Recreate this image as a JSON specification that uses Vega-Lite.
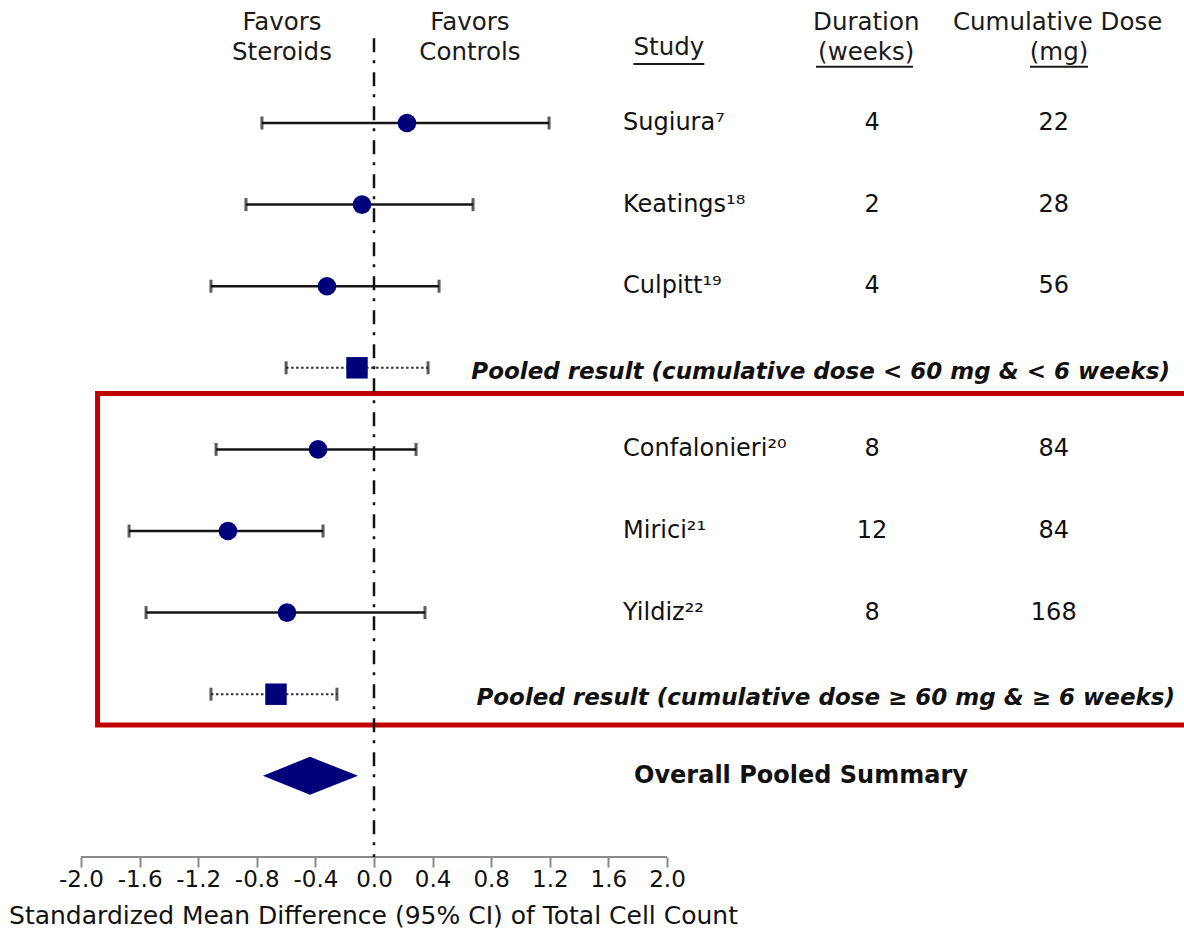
{
  "$schema": "https://vega.github.io/schema/vega-lite/v6.json",
  "width": 1103,
  "height": 857,
  "autosize": {"type": "none"},
  "padding": {"left": 81, "top": 0, "right": 0, "bottom": 80},
  "background": "white",
  "config": {"view": {"stroke": null}, "font": "DejaVu Sans"},
  "datasets": {
    "forest": [
      {"row": 1, "kind": "study", "est": 0.225, "lo": -0.765, "hi": 1.195},
      {"row": 2, "kind": "study", "est": -0.082, "lo": -0.874, "hi": 0.676},
      {"row": 3, "kind": "study", "est": -0.321, "lo": -1.113, "hi": 0.444},
      {"row": 4, "kind": "pooled", "est": -0.116, "lo": -0.6, "hi": 0.369},
      {"row": 5, "kind": "study", "est": -0.382, "lo": -1.078, "hi": 0.287},
      {"row": 6, "kind": "study", "est": -0.997, "lo": -1.672, "hi": -0.348},
      {"row": 7, "kind": "study", "est": -0.594, "lo": -1.556, "hi": 0.348},
      {"row": 8, "kind": "pooled", "est": -0.669, "lo": -1.113, "hi": -0.253}
    ],
    "studies": [
      {"row": 1, "study": "Sugiura⁷", "duration": "4", "dose": "22"},
      {"row": 2, "study": "Keatings¹⁸", "duration": "2", "dose": "28"},
      {"row": 3, "study": "Culpitt¹⁹", "duration": "4", "dose": "56"},
      {"row": 5, "study": "Confalonieri²⁰", "duration": "8", "dose": "84"},
      {"row": 6, "study": "Mirici²¹", "duration": "12", "dose": "84"},
      {"row": 7, "study": "Yildiz²²", "duration": "8", "dose": "168"}
    ],
    "headers": [
      {"label": "Favors", "x": -0.628, "row": -0.225},
      {"label": "Steroids", "x": -0.628, "row": 0.14},
      {"label": "Favors", "x": 0.655, "row": -0.225},
      {"label": "Controls", "x": 0.655, "row": 0.14},
      {"label": "Study", "x": 2.013, "row": 0.081},
      {"label": "Duration", "x": 3.36, "row": -0.225},
      {"label": "(weeks)", "x": 3.36, "row": 0.14},
      {"label": "Cumulative Dose", "x": 4.666, "row": -0.225},
      {"label": "(mg)", "x": 4.676, "row": 0.14}
    ],
    "underlines": [
      {"x": 1.771, "x2": 2.255, "row": 0.277},
      {"x": 3.017, "x2": 3.679, "row": 0.31},
      {"x": 4.478, "x2": 4.874, "row": 0.31}
    ],
    "pooledLabels": [
      {"label": "Pooled result (cumulative dose < 60 mg & < 6 weeks)", "row": 4, "x": 5.433},
      {"label": "Pooled result (cumulative dose ≥ 60 mg & ≥ 6 weeks)", "row": 8, "x": 5.468}
    ],
    "overall": [
      {"label": "Overall Pooled Summary", "row": 9, "x": 1.775}
    ],
    "diamond": [
      {"x": -0.758, "y": 9, "y2": 9},
      {"x": -0.437, "y": 8.767, "y2": 9.233},
      {"x": -0.109, "y": 9, "y2": 9}
    ],
    "box": [
      {"x": -1.887, "x2": 5.6, "y": 4.315, "y2": 8.377}
    ],
    "zero": [
      {"x": 0, "y": -0.04, "y2": 9.995}
    ],
    "axisline": [
      {"x": -2, "x2": 2, "y": 9.995}
    ]
  },
  "layer": [
    {
      "data": {"name": "axisline"},
      "mark": {"type": "rule", "color": "#8a8a8a", "strokeWidth": 2},
      "encoding": {
        "x": {"field": "x", "type": "quantitative",
          "scale": {"domain": [-2, 5.529], "nice": false, "zero": false},
          "axis": {
            "values": [-2, -1.6, -1.2, -0.8, -0.4, 0, 0.4, 0.8, 1.2, 1.6, 2],
            "labelExpr": "replace(format(datum.value, '.1f'), '−', '-')",
            "labelOverlap": false,
            "labelBound": false,
            "labelFlush": false,
            "domain": false,
            "grid": false,
            "tickColor": "#8a8a8a",
            "tickWidth": 2,
            "tickSize": 10,
            "labelFontSize": 23,
            "labelColor": "#111111",
            "labelPadding": 1,
            "labelFont": "DejaVu Sans",
            "title": "Standardized Mean Difference (95% CI) of Total Cell Count",
            "titleFont": "DejaVu Sans",
            "titleFontSize": 25,
            "titleFontWeight": "normal",
            "titleColor": "#111111",
            "titleX": 292,
            "titleY": 58,
            "titleAlign": "center",
            "titleBaseline": "middle"
          }
        },
        "x2": {"field": "x2"},
        "y": {"field": "y", "type": "quantitative",
          "scale": {"domain": [-0.5074, 9.995], "nice": false, "zero": false, "reverse": true},
          "axis": null}
      }
    },
    {
      "data": {"name": "box"},
      "mark": {"type": "rect", "filled": false, "stroke": "#c00000", "strokeWidth": 5, "fill": null},
      "encoding": {
        "x": {"field": "x", "type": "quantitative"},
        "x2": {"field": "x2"},
        "y": {"field": "y", "type": "quantitative", "axis": null},
        "y2": {"field": "y2"}
      }
    },
    {
      "data": {"name": "zero"},
      "mark": {"type": "rule", "color": "#111111", "strokeWidth": 2.5, "strokeDash": [14, 8, 3, 9]},
      "encoding": {
        "x": {"field": "x", "type": "quantitative"},
        "y": {"field": "y", "type": "quantitative", "axis": null},
        "y2": {"field": "y2"}
      }
    },
    {
      "data": {"name": "forest"},
      "transform": [{"filter": "datum.kind === 'study'"}],
      "mark": {"type": "rule", "color": "#151515", "strokeWidth": 2.5},
      "encoding": {
        "x": {"field": "lo", "type": "quantitative"},
        "x2": {"field": "hi"},
        "y": {"field": "row", "type": "quantitative", "axis": null}
      }
    },
    {
      "data": {"name": "forest"},
      "transform": [{"filter": "datum.kind === 'pooled'"}],
      "mark": {"type": "rule", "color": "#333333", "strokeWidth": 2, "strokeDash": [2.5, 2.5]},
      "encoding": {
        "x": {"field": "lo", "type": "quantitative"},
        "x2": {"field": "hi"},
        "y": {"field": "row", "type": "quantitative", "axis": null}
      }
    },
    {
      "data": {"name": "forest"},
      "mark": {"type": "tick", "orient": "vertical", "color": "#151515", "size": 13, "thickness": 3},
      "encoding": {
        "x": {"field": "lo", "type": "quantitative"},
        "y": {"field": "row", "type": "quantitative", "axis": null}
      }
    },
    {
      "data": {"name": "forest"},
      "mark": {"type": "tick", "orient": "vertical", "color": "#151515", "size": 13, "thickness": 3},
      "encoding": {
        "x": {"field": "hi", "type": "quantitative"},
        "y": {"field": "row", "type": "quantitative", "axis": null}
      }
    },
    {
      "data": {"name": "forest"},
      "transform": [{"filter": "datum.kind === 'study'"}],
      "mark": {"type": "point", "shape": "circle", "filled": true, "color": "#00007a", "size": 345, "opacity": 1},
      "encoding": {
        "x": {"field": "est", "type": "quantitative"},
        "y": {"field": "row", "type": "quantitative", "axis": null}
      }
    },
    {
      "data": {"name": "forest"},
      "transform": [{"filter": "datum.kind === 'pooled'"}],
      "mark": {"type": "point", "shape": "square", "filled": true, "color": "#00007a", "size": 460, "opacity": 1},
      "encoding": {
        "x": {"field": "est", "type": "quantitative"},
        "y": {"field": "row", "type": "quantitative", "axis": null}
      }
    },
    {
      "data": {"name": "diamond"},
      "mark": {"type": "area", "color": "#00007a", "orient": "vertical", "opacity": 1},
      "encoding": {
        "x": {"field": "x", "type": "quantitative"},
        "y": {"field": "y", "type": "quantitative", "axis": null},
        "y2": {"field": "y2"}
      }
    },
    {
      "data": {"name": "studies"},
      "mark": {"type": "text", "align": "left", "baseline": "middle", "fontSize": 24, "color": "#111111", "font": "DejaVu Sans"},
      "encoding": {
        "x": {"datum": 1.70, "type": "quantitative"},
        "y": {"field": "row", "type": "quantitative", "axis": null},
        "text": {"field": "study"}
      }
    },
    {
      "data": {"name": "studies"},
      "mark": {"type": "text", "align": "center", "baseline": "middle", "fontSize": 24, "color": "#111111", "font": "DejaVu Sans"},
      "encoding": {
        "x": {"datum": 3.40, "type": "quantitative"},
        "y": {"field": "row", "type": "quantitative", "axis": null},
        "text": {"field": "duration"}
      }
    },
    {
      "data": {"name": "studies"},
      "mark": {"type": "text", "align": "center", "baseline": "middle", "fontSize": 24, "color": "#111111", "font": "DejaVu Sans"},
      "encoding": {
        "x": {"datum": 4.64, "type": "quantitative"},
        "y": {"field": "row", "type": "quantitative", "axis": null},
        "text": {"field": "dose"}
      }
    },
    {
      "data": {"name": "headers"},
      "mark": {"type": "text", "align": "center", "baseline": "middle", "fontSize": 24.5, "color": "#1a1a1a", "font": "DejaVu Sans"},
      "encoding": {
        "x": {"field": "x", "type": "quantitative"},
        "y": {"field": "row", "type": "quantitative", "axis": null},
        "text": {"field": "label"}
      }
    },
    {
      "data": {"name": "underlines"},
      "mark": {"type": "rule", "color": "#1a1a1a", "strokeWidth": 2},
      "encoding": {
        "x": {"field": "x", "type": "quantitative"},
        "x2": {"field": "x2"},
        "y": {"field": "row", "type": "quantitative", "axis": null}
      }
    },
    {
      "data": {"name": "pooledLabels"},
      "mark": {"type": "text", "align": "right", "baseline": "middle", "dy": 4, "fontSize": 23, "fontWeight": "bold", "fontStyle": "italic", "color": "#111111", "font": "DejaVu Sans"},
      "encoding": {
        "x": {"field": "x", "type": "quantitative"},
        "y": {"field": "row", "type": "quantitative", "axis": null},
        "text": {"field": "label"}
      }
    },
    {
      "data": {"name": "overall"},
      "mark": {"type": "text", "align": "left", "baseline": "middle", "fontSize": 24, "fontWeight": "bold", "color": "#111111", "font": "DejaVu Sans"},
      "encoding": {
        "x": {"field": "x", "type": "quantitative"},
        "y": {"field": "row", "type": "quantitative", "axis": null},
        "text": {"field": "label"}
      }
    }
  ]
}
